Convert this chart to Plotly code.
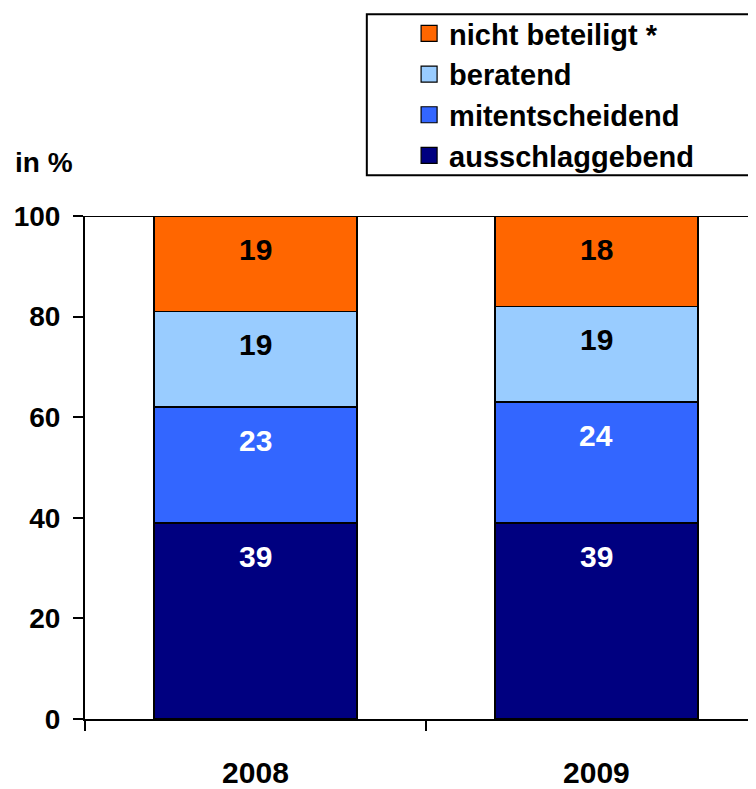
import plotly.graph_objects as go

years = ['2008', '2009']
series_names = ['ausschlaggebend', 'mitentscheidend', 'beratend', 'nicht beteiligt *']
ausschlaggebend = [39, 39]
mitentscheidend = [23, 24]
beratend = [19, 19]
nicht_beteiligt = [19, 18]
y_ticks = [0, 20, 40, 60, 80, 100]

FONT = 'Arial, Liberation Sans, sans-serif'
colors = ['#000080', '#3366FF', '#99CCFF', '#FF6600']
label_colors = ['white', 'white', 'black', 'black']
values = [ausschlaggebend, mitentscheidend, beratend, nicht_beteiligt]

figure = go.Figure()

# stacked bars (legend drawn with dummy square markers below)
for name, vals, color in zip(series_names, values, colors):
    figure.add_trace(go.Bar(name=name, x=years, y=vals, width=0.595,
        marker=dict(color=color, line=dict(color='black', width=1.5)),
        showlegend=False))

# legend entries, top to bottom as in the reference
for name, color in reversed(list(zip(series_names, colors))):
    figure.add_trace(go.Scatter(name=name, x=[None], y=[None], mode='markers',
        marker=dict(symbol='square', size=16, color=color, line=dict(color='black', width=1.2))))

# value labels, placed a little below the top of each segment
for i, year in enumerate(years):
    top = 0
    for vals, tc in zip(values, label_colors):
        top += vals[i]
        figure.add_annotation(x=i, y=top - 6.6, text='<b>%d</b>' % vals[i], showarrow=False,
            font=dict(family=FONT, size=30, color=tc))

figure.add_annotation(xref='paper', yref='paper', x=-0.108, y=1.106, xanchor='left', yanchor='middle',
    text='<b>in %</b>', showarrow=False, font=dict(family=FONT, size=28, color='black'))

# top border of the plot area
figure.add_shape(type='line', xref='paper', yref='y', x0=0, x1=1, y0=100, y1=100,
    line=dict(color='black', width=2))

# legend frame
figure.add_shape(type='rect', xref='paper', yref='paper', x0=0.42, x1=1.05, y0=1.081, y1=1.401,
    line=dict(color='black', width=2), fillcolor='rgba(0,0,0,0)')

# the page adds an 8px body margin, so the figure is 8px smaller than the window
figure.update_layout(
    width=748, height=781,
    margin=dict(l=77, r=0, t=206, b=66),
    barmode='stack',
    plot_bgcolor='white', paper_bgcolor='white',
    font=dict(family=FONT, color='black'),
    legend=dict(x=0.483, y=1.414, xanchor='left', yanchor='top', bgcolor='rgba(0,0,0,0)',
        font=dict(family=FONT, size=29, color='black', weight='bold'),
        itemsizing='trace', traceorder='normal'),
    xaxis=dict(range=[-0.5, 1.468], showline=True, linecolor='black', linewidth=2,
        ticks='outside', tickson='boundaries', ticklen=10, tickcolor='black', tickwidth=1.5,
        ticklabelstandoff=26,
        tickfont=dict(family=FONT, size=30, color='black', weight='bold'), showgrid=False),
    yaxis=dict(range=[0, 100], tickvals=y_ticks, showline=True, linecolor='black', linewidth=2,
        ticks='outside', ticklen=10, tickcolor='black', tickwidth=1.5, ticklabelstandoff=7,
        tickfont=dict(family=FONT, size=28, color='black', weight='bold'), showgrid=False,
        zeroline=False),
)

figure.write_html('out.html')
